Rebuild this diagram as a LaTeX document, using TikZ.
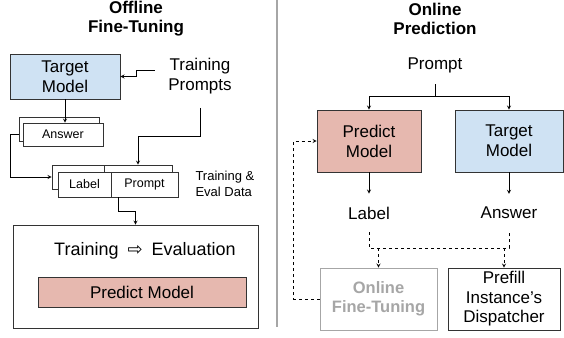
\documentclass[tikz,border=0pt]{standalone}
\usepackage{fontspec}
\setmainfont{Liberation Sans}
\newfontfamily\symfont{DejaVu Sans}
\usetikzlibrary{arrows, positioning}
\definecolor{targetblue}{HTML}{CFE2F3}
\definecolor{predictred}{HTML}{E6B8AF}
\definecolor{fadedgray}{HTML}{A6A6A6}
\tikzstyle{box} = [rectangle, draw=black!80, line width=0.8pt, fill=white, inner sep=0pt, text centered, align=center, font=\fontsize{17}{20}\selectfont]
\tikzstyle{bluebox} = [box, fill=targetblue]
\tikzstyle{redbox} = [box, fill=predictred]
\tikzstyle{smallbox} = [box, font=\fontsize{12.5}{14}\selectfont]
\tikzstyle{txt} = [align=center, font=\fontsize{17}{20}\selectfont]
\tikzstyle{heading} = [align=center, font=\bfseries\fontsize{17}{19}\selectfont]
\tikzstyle{arrow} = [line width=0.8pt, ->, >=stealth]

\begin{document}
\begin{tikzpicture}[x=1pt, y=-1pt]
\useasboundingbox (0,0) rectangle (564,337);

% Offline Fine-Tuning
\node (title_off) [heading] at (136,19) {Offline\\Fine-Tuning};
\node (target_off) [bluebox, minimum width=110, minimum height=45] at (65,76.5) {Target\\Model};
\node (prompts_off) [txt] at (200,76.5) {Training\\Prompts};
\node (answer_back) [smallbox, minimum width=80, minimum height=24] at (59,129) {};
\node (answer) [smallbox, minimum width=80, minimum height=23] at (63,134.5) {Answer};
\node (label_back) [smallbox, minimum width=52, minimum height=24] at (78,177) {};
\node (prompt_back) [smallbox, minimum width=68, minimum height=24] at (138,177) {};
\node (label) [smallbox, minimum width=53, minimum height=25] at (84.5,184.5) {Label};
\node (prompt) [smallbox, minimum width=67, minimum height=25] at (144.5,184.5) {Prompt};
\node (data) [anchor=west, align=left, font=\fontsize{13}{16}\selectfont] at (192,184) {Training \&\\Eval Data};
\node (bigbox) [box, minimum width=245, minimum height=103] at (135.5,276.5) {};
\node (flow) [txt, font=\fontsize{18}{20}\selectfont] at (145,251) {Training\hspace{9pt}{\symfont ⇨}\hspace{9pt}Evaluation};
\node (predict_off) [redbox, minimum width=208, minimum height=30] at (142,292) {Predict Model};

% Divider
\draw [line width=2pt, black!35] (277,0) -- (277,327);

% Online Prediction
\node (title_on) [heading] at (435,19) {Online\\Prediction};
\node (prompt_on) [txt] at (435,65) {Prompt};
\node (predict_on) [redbox, minimum width=104, minimum height=62] at (369,141) {Predict\\Model};
\node (target_on) [bluebox, minimum width=108, minimum height=62] at (509,141) {Target\\Model};
\node (label_on) [txt, inner sep=13pt] at (369,213) {Label};
\node (answer_on) [txt, inner sep=13pt] at (509,213) {Answer};
\node (oft) [box, draw=fadedgray, text=fadedgray, font=\bfseries\fontsize{16.5}{19}\selectfont, minimum width=117, minimum height=62] at (378.5,299) {Online\\Fine-Tuning};
\node (prefill) [box, minimum width=112, minimum height=62, font=\fontsize{17}{19.5}\selectfont] at (504,299) {Prefill\\Instance's\\Dispatcher};

% Arrows for offline part
\draw [arrow] ([xshift=-10pt,yshift=6pt]prompts_off.west) -- ++(-18,0) |- (target_off.east);
\draw [arrow] (target_off.south) -- (target_off.south |- answer.north);
\draw [arrow] (answer_back.west |- answer.west) -- ++(-8,0) |- (label_back.west);
\draw [arrow] ([yshift=-10pt]prompts_off.south) -- ++(0,28) -| (prompt_back.north);
\draw [arrow] ([xshift=-26pt]prompt.south) -- ++(0,14) -| (bigbox.north);

% Arrows for online part
\draw [line width=0.8pt] ([yshift=-8pt]prompt_on.south) -- ++(0,12) coordinate (fork);
\draw [arrow] (fork) -| (predict_on.north);
\draw [arrow] (fork) -| (target_on.north);
\draw [arrow] (predict_on.south) -- (label_on.north);
\draw [arrow] (target_on.south) -- (answer_on.north);

% Dashed feedback
\draw [dashed, line width=0.8pt] (label_on.south) -- ++(0,16) coordinate (merge) -| (answer_on.south);
\draw [arrow, dashed] (merge -| oft.north) -- (oft.north);
\draw [arrow, dashed] (merge -| prefill.north) -- (prefill.north);
\draw [arrow, dashed] (oft.west) -- ++(-26,0) |- (predict_on.west);

\end{tikzpicture}
\end{document}
